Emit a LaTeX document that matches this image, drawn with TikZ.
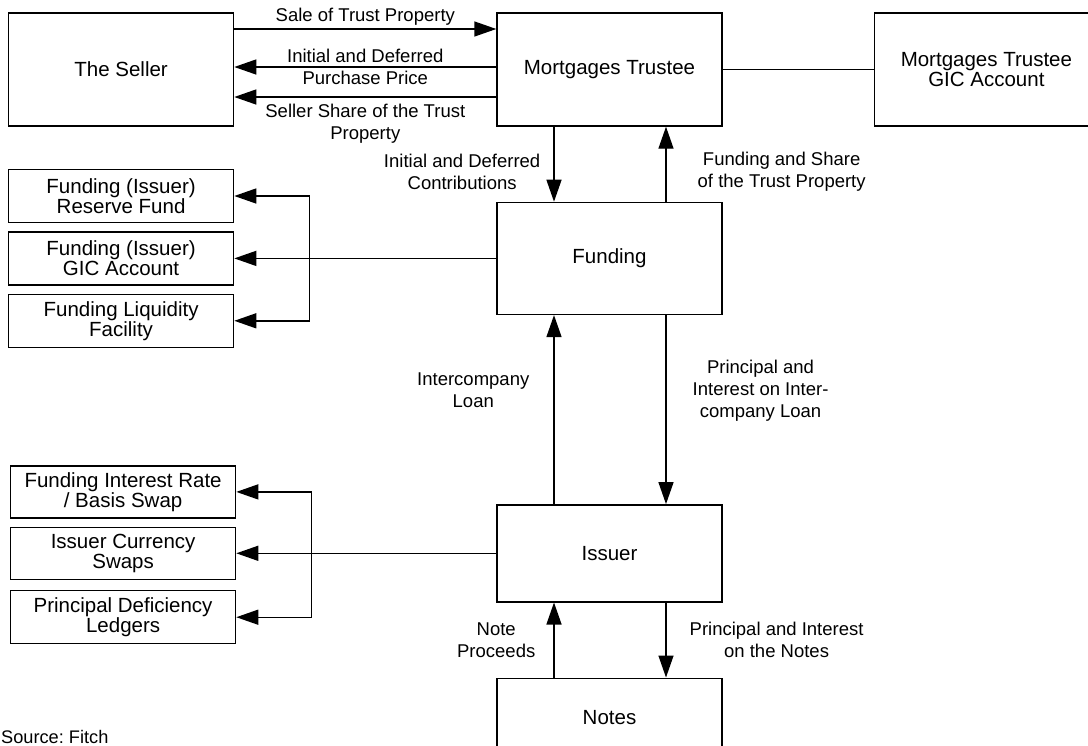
\documentclass[tikz,border=0pt]{standalone}
\usepackage{fontspec}
\setmainfont{Liberation Sans}
\usetikzlibrary{positioning,arrows.meta}
\frenchspacing

\begin{document}
\begin{tikzpicture}[
    x=1pt, y=-1pt,
    node distance = 8pt,
    box/.style={draw,line width=1.4pt,minimum width=225pt,align=center,inner sep=2pt,
        font={\fontsize{20.5}{20}\selectfont}},
    side/.style={box,minimum height=53pt},
    lbl/.style={align=center,inner sep=0pt,font={\fontsize{18.5}{22}\selectfont}},
    flow/.style={line width=1.4pt,-{Triangle[length=22pt,width=15pt]}},
    link/.style={line width=1.4pt},
]
    \useasboundingbox (0,0) rectangle (1088,745);
    \clip (0,0) rectangle (1088,745);

    \node[box,minimum height=113pt]                        (mt)        at (609.5,69.5) {Mortgages Trustee};
    \node[box,minimum height=113pt,left=262pt of mt]       (seller)    {The Seller};
    \node[box,minimum height=113pt,minimum width=224pt,
          right=151pt of mt]                               (gic)       {Mortgages Trustee\\GIC Account};
    \node[box,minimum height=112pt,below=75pt of mt]       (funding)   {Funding};
    \node[box,minimum height=97pt,below=189pt of funding]  (issuer)    {Issuer};
    \node[box,minimum height=78pt,below=75pt of issuer]    (notes)     {Notes};

    \node[side,left=262pt of funding]                      (gica)      {Funding (Issuer)\\GIC Account};
    \node[side,above=of gica]                              (reserve)   {Funding (Issuer)\\Reserve Fund};
    \node[side,below=of gica]                              (liquidity) {Funding Liquidity\\Facility};

    \node[side,minimum height=52pt,left=260pt of issuer]   (ccy)       {Issuer Currency\\Swaps};
    \node[side,minimum height=52pt,above=of ccy]           (irs)       {Funding Interest Rate\\/ Basis Swap};
    \node[side,below=10pt of ccy]                          (pdl)       {Principal Deficiency\\Ledgers};

    \draw[flow] ([yshift=40.5pt]seller.east) -- node[lbl,above=3pt] {Sale of Trust Property} ([yshift=40.5pt]mt.west);
    \draw[flow] ([yshift=2.5pt]mt.west) -- node[lbl] {Initial and Deferred\\Purchase Price} ([yshift=2.5pt]seller.east);
    \draw[flow] ([yshift=-27.5pt]mt.west) -- node[lbl,below=6pt] {Seller Share of the Trust\\Property} ([yshift=-27.5pt]seller.east);
    \draw[link] (mt) -- (gic);

    \draw[flow] ([xshift=-55.5pt]mt.south) -- node[lbl,left=13pt,pos=0.6] {Initial and Deferred\\Contributions} ([xshift=-55.5pt]funding.north);
    \draw[flow] ([xshift=56.5pt]funding.north) -- node[lbl,right=31pt,pos=0.4] {Funding and Share\\of the Trust Property} ([xshift=56.5pt]mt.south);

    \draw[flow] ([xshift=56.5pt]funding.south) -- node[lbl,right=26pt,pos=0.4] {Principal and\\Interest on Inter-\\company Loan} ([xshift=56.5pt]issuer.north);
    \draw[flow] ([xshift=-55.5pt]issuer.north) -- node[lbl,left=24pt,pos=0.6] {Intercompany\\Loan} ([xshift=-55.5pt]funding.south);

    \draw[flow] ([xshift=56.5pt]issuer.south) -- node[lbl,right=23pt] {Principal and Interest\\on the Notes} ([xshift=56.5pt]notes.north);
    \draw[flow] ([xshift=-55.5pt]notes.north) -- node[lbl,left=18pt] {Note\\Proceeds} ([xshift=-55.5pt]issuer.south);

    \coordinate (fjoint) at ([xshift=75pt]gica.east);
    \draw[flow] (funding.west) -- (gica.east);
    \draw[flow] (fjoint) |- (reserve.east);
    \draw[flow] (fjoint) |- (liquidity.east);

    \coordinate (ijoint) at ([xshift=75pt]ccy.east);
    \draw[flow] (issuer.west) -- (ccy.east);
    \draw[flow] (ijoint) |- (irs.east);
    \draw[flow] (ijoint) |- (pdl.east);

    \node[lbl,anchor=base west,font={\fontsize{18.2}{22}\selectfont}] (source) at (1,743) {Source: Fitch};
\end{tikzpicture}
\end{document}
